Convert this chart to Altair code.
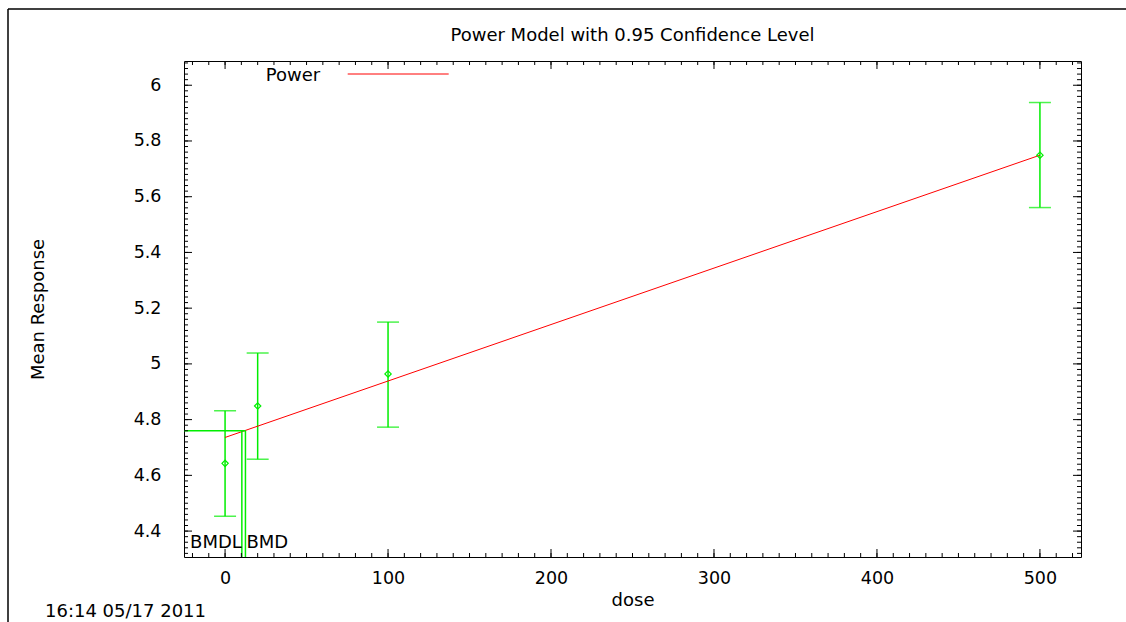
import altair as alt
import pandas as pd

# ---- data ----
dose = [0, 20, 100, 500]
mean_resp = [4.643, 4.849, 4.964, 5.749]
lower_ci = [4.453, 4.658, 4.773, 5.561]
upper_ci = [4.832, 5.039, 5.150, 5.938]

fit_dose = [0, 500]
fit_resp = [4.736, 5.749]

bmr_level = 4.760
bmdl = 10.3
bmd = 12.5

x_major = [0, 100, 200, 300, 400, 500]
y_major = [4.4, 4.6, 4.8, 5.0, 5.2, 5.4, 5.6, 5.8, 6.0]
x_minor = [round(-20 + 10 * i, 3) for i in range(55)]
y_minor = [round(4.32 + 0.02 * i, 3) for i in range(89)]

title_text = "Power Model with 0.95 Confidence Level"
x_title = "dose"
y_title = "Mean Response"
legend_label = "Power"
timestamp = "16:14 05/17 2011"

X_DOMAIN = [-25.2, 525.2]
Y_DOMAIN = [4.307, 6.087]

W, H = 897, 496
FONT = "DejaVu Sans"
FS = 18
LFS = 17.5
GREEN = "#00ee00"
RED = "#ff0000"

xs = alt.Scale(domain=X_DOMAIN, nice=False, zero=False)
ys = alt.Scale(domain=Y_DOMAIN, nice=False, zero=False)

xaxis = alt.Axis(values=x_major, ticks=False, tickSize=0, domain=False, grid=False,
                 labelFont=FONT, labelFontSize=LFS, labelColor="black", labelPadding=12,
                 title=x_title, titleFont=FONT, titleFontSize=FS, titleFontWeight="normal",
                 titleColor="black", titleX=W / 2, titleY=48, titleBaseline="alphabetic",
                 titleAlign="center", format="d")
yaxis = alt.Axis(values=y_major, ticks=False, tickSize=0, domain=False, grid=False,
                 labelFont=FONT, labelFontSize=LFS, labelColor="black", labelPadding=23,
                 format="~g",
                 title=y_title, titleFont=FONT, titleFontSize=FS, titleFontWeight="normal",
                 titleColor="black", titleX=-141, titleY=H / 2, titleAngle=270,
                 titleBaseline="alphabetic", titleAlign="center")

df = pd.DataFrame({"dose": dose, "mean": mean_resp, "lower": lower_ci, "upper": upper_ci})
fit_df = pd.DataFrame({"dose": fit_dose, "resp": fit_resp})

X = lambda f: alt.X(f, type="quantitative", scale=xs, axis=xaxis)
Y = lambda f: alt.Y(f, type="quantitative", scale=ys, axis=yaxis)

bars = alt.Chart(df).mark_rule(color=GREEN, strokeWidth=1.5).encode(
    x=X("dose"), y=Y("lower"), y2="upper")
cap_hi = alt.Chart(df).mark_tick(orient="horizontal", size=22, thickness=1.5, color=GREEN).encode(
    x=X("dose"), y=Y("upper"))
cap_lo = alt.Chart(df).mark_tick(orient="horizontal", size=22, thickness=1.5, color=GREEN).encode(
    x=X("dose"), y=Y("lower"))
pts = alt.Chart(df).mark_point(shape="diamond", filled=False, size=40, color=GREEN,
                               strokeWidth=1.2, opacity=1).encode(x=X("dose"), y=Y("mean"))
fit = alt.Chart(fit_df).mark_line(color=RED, strokeWidth=1).encode(x=X("dose"), y=Y("resp"))

bmd_h_df = pd.DataFrame({"x0": [X_DOMAIN[0]], "x1": [bmd], "y": [bmr_level]})
bmd_h = alt.Chart(bmd_h_df).mark_rule(color=GREEN, strokeWidth=1.5).encode(
    x=X("x0"), x2="x1", y=Y("y"))
bmd_v_df = pd.DataFrame({"x": [bmdl, bmd], "y0": [Y_DOMAIN[0]] * 2, "y1": [bmr_level] * 2})
bmd_v = alt.Chart(bmd_v_df).mark_rule(color=GREEN, strokeWidth=1.5).encode(
    x=X("x"), y=Y("y0"), y2="y1")

bmdl_txt = alt.Chart(pd.DataFrame({"x": [bmdl], "t": ["BMDL"]})).mark_text(
    align="right", baseline="alphabetic", font=FONT, fontSize=FS, color="black").encode(
    x=X("x"), y=alt.value(487.3), text="t:N")
bmd_txt = alt.Chart(pd.DataFrame({"x": [bmd], "t": ["BMD"]})).mark_text(
    align="left", baseline="alphabetic", font=FONT, fontSize=FS, color="black", dx=1).encode(
    x=X("x"), y=alt.value(487.3), text="t:N")

# inward ticks on all four sides
def xticks(vals, length):
    d = pd.DataFrame({"v": vals})
    b = alt.Chart(d).mark_rule(color="black", strokeWidth=1).encode(
        x=X("v"), y=alt.value(H), y2=alt.value(H - length))
    t = alt.Chart(d).mark_rule(color="black", strokeWidth=1).encode(
        x=X("v"), y=alt.value(0), y2=alt.value(length))
    return [b, t]

def yticks(vals, length):
    d = pd.DataFrame({"v": vals})
    l = alt.Chart(d).mark_rule(color="black", strokeWidth=1).encode(
        y=Y("v"), x=alt.value(0), x2=alt.value(length))
    r = alt.Chart(d).mark_rule(color="black", strokeWidth=1).encode(
        y=Y("v"), x=alt.value(W), x2=alt.value(W - length))
    return [l, r]

one = pd.DataFrame({"t": [legend_label]})
leg_txt = alt.Chart(one).mark_text(align="left", baseline="alphabetic", font=FONT,
                                   fontSize=FS, color="black").encode(
    x=alt.value(81.7), y=alt.value(19.7), text="t:N")
leg_line = alt.Chart(one).mark_rule(color=RED, strokeWidth=1).encode(
    x=alt.value(163.7), x2=alt.value(264.7), y=alt.value(13))

ttl = alt.Chart(pd.DataFrame({"t": [title_text]})).mark_text(
    align="center", baseline="alphabetic", font=FONT, fontSize=FS, color="black").encode(
    x=alt.value(W / 2), y=alt.value(-20), text="t:N")

ts = alt.Chart(pd.DataFrame({"t": [timestamp]})).mark_text(
    align="left", baseline="alphabetic", font=FONT, fontSize=FS, color="black").encode(
    x=alt.value(-139), y=alt.value(556), text="t:N")

border_top = alt.Chart(one).mark_rule(color="black", strokeWidth=1.5).encode(
    x=alt.value(-176), x2=alt.value(942), y=alt.value(-52))
border_left = alt.Chart(one).mark_rule(color="black", strokeWidth=1.5).encode(
    x=alt.value(-176), y=alt.value(-52), y2=alt.value(565))

layers = ([bars, cap_hi, cap_lo, fit, pts, bmd_h, bmd_v, bmdl_txt, bmd_txt]
          + xticks(x_minor, 4) + xticks(x_major, 8)
          + yticks(y_minor, 4) + yticks(y_major, 8)
          + [leg_txt, leg_line, ttl, ts, border_top, border_left])

chart = alt.layer(*layers).properties(
    width=W, height=H,
    autosize=alt.AutoSizeParams(type="none"),
    padding={"left": 184, "top": 61, "right": 45, "bottom": 65},
    background="white",
).configure_view(stroke="black", strokeWidth=1)

chart.save("out.html", embed_options={"renderer": "svg", "actions": False})
